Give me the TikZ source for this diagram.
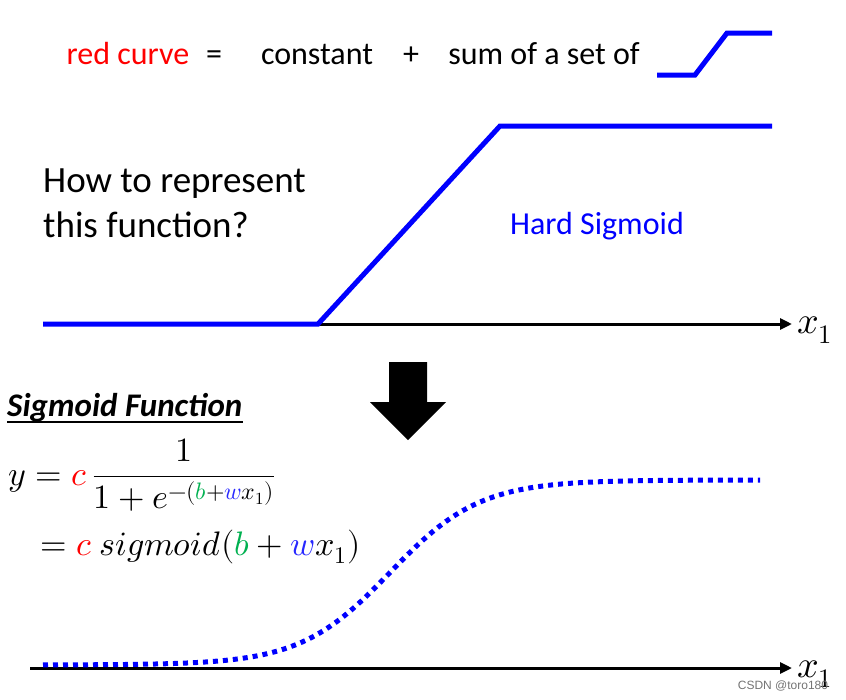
\documentclass[tikz,border=0pt]{standalone}
\usepackage{amsmath}
\usepackage{fontspec}
\usepackage{unicode-math}
\setmainfont{Carlito}
\setmathfont{Latin Modern Math}
\newfontfamily\wmfont{Liberation Sans}
\usetikzlibrary{arrows.meta}
\definecolor{hblue}{RGB}{0,0,255}
\definecolor{fred}{RGB}{255,0,0}
\definecolor{fgreen}{RGB}{0,176,80}
\definecolor{fblue}{RGB}{40,40,255}
\tikzset{
  curveline/.style={hblue, line width=5pt, line join=miter},
  dotline/.style={hblue, line width=5pt, dash pattern=on 5pt off 5pt},
  axisline/.style={black, line width=3pt, -{Triangle[length=12pt,width=11pt]}},
  toptext/.style={inner sep=0pt, anchor=base, font=\fontsize{32}{36}\selectfont},
  bigtext/.style={inner sep=0pt, anchor=base west, align=left, font=\fontsize{37}{45}\selectfont},
  hstext/.style={inner sep=0pt, text=hblue, font=\fontsize{32}{36}\selectfont},
  mathtext/.style={inner sep=0pt, anchor=base west, font=\fontsize{34}{40}\selectfont},
  xlabel/.style={inner sep=0pt, font=\fontsize{38}{40}\selectfont},
  blockarrow/.style={fill=black, draw=none},
}
\begin{document}
\begin{tikzpicture}[x=1pt,y=-1pt]
\useasboundingbox (0,0) rectangle (846,699);
% top line
\node[toptext, text=fred] (rc) at (128,64) {red curve};
\node[toptext] (eq) at (214,64) {=};
\node[toptext] (cst) at (317,64) {constant};
\node[toptext] (pl) at (411,64) {+};
\node[toptext] (sum) at (544,64) {sum of a set of};
\coordinate (s1) at (657,75);
\coordinate (s2) at (695,75);
\coordinate (s3) at (727,33);
\coordinate (s4) at (772,33);
\draw[curveline] (s1) -- (s2) -- (s3) -- (s4);
% question
\node[bigtext] (q) at (43,237) {How to represent\\this function?};
\node[hstext] (hs) at (597,226) {Hard Sigmoid};
% top axis and hard sigmoid
\coordinate (a1) at (43,324);
\coordinate (a2) at (318,324);
\coordinate (a3) at (500,126);
\coordinate (a4) at (772,126);
\coordinate (aend) at (792,324);
\draw[axisline] (a2) -- (aend);
\draw[curveline] (a1) -- (a2) -- (a3) -- (a4);
\node[xlabel] (x1a) at (815,330) {$x_1$};
% block arrow
\fill[blockarrow] (389,362) -- (427,362) -- (427,402) -- (446,402) -- (408,440) -- (370,402) -- (389,402) -- cycle;
% sigmoid function title
\node[inner sep=0pt, anchor=base west, font=\fontsize{33}{36}\selectfont\bfseries\itshape] (sf) at (7,416) {Sigmoid Function};
\draw[line width=1.6pt] ([yshift=-6pt]sf.base west) -- ([yshift=-6pt]sf.base east);
% formula
\node[mathtext] (f1) at (8,485) {$y=\textcolor{fred}{c}\,\dfrac{1}{1+e^{-(\textcolor{fgreen}{b}+\textcolor{fblue}{w}x_1)}}$};
\node[mathtext] (f2) at (40,555) {$=\textcolor{fred}{c}\ sigmoid(\textcolor{fgreen}{b}+\textcolor{fblue}{w}x_1)$};
% bottom axis and sigmoid
\coordinate (b1) at (30,668);
\coordinate (bend) at (792,668);
\draw[axisline] (b1) -- (bend);
\draw[dotline] plot[domain=43:760, samples=120, smooth] (\x, {665-185/(1+exp(-(\x-390)/45))});
\node[xlabel] (x1b) at (815,674) {$x_1$};
% watermark
\node[inner sep=0pt, text=black!55, font=\wmfont\fontsize{12}{13}\selectfont] (wm) at (783,686) {CSDN @toro180};
\end{tikzpicture}
\end{document}
